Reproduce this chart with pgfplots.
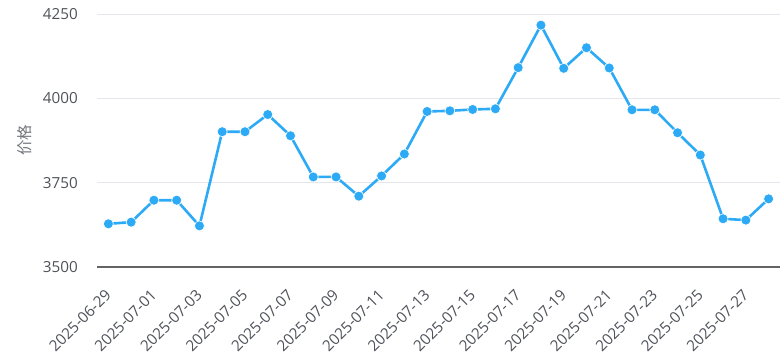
\documentclass[border=0pt]{standalone}
\usepackage{pgfplots}
\pgfplotsset{compat=1.18}
\usepackage{fontspec}
\setmainfont{Open Sans}
\newfontfamily\cjk{Noto Sans CJK SC}
\definecolor{linec}{RGB}{45,170,245}
\definecolor{txt}{RGB}{80,82,90}
\definecolor{gridc}{RGB}{228,230,235}
\definecolor{axc}{RGB}{100,100,100}
\begin{document}
\begin{tikzpicture}[x=1bp,y=1bp]
\begin{axis}[
  at={(0,0)}, anchor=south west,
  scale only axis, width=683bp, height=253bp,
  xmin=-0.5, xmax=29.5, ymin=3500, ymax=4250,
  axis x line*=bottom, axis y line*=left,
  y axis line style={draw=none},
  x axis line style={draw=axc, line width=1.3pt, -},
  ytick={3500,3750,4000,4250},
  ymajorgrids, grid style={gridc, line width=0.8pt},
  major tick length=0pt,
  xtick={0,2,...,28},
  xticklabels={2025-06-29,2025-07-01,2025-07-03,2025-07-05,2025-07-07,2025-07-09,2025-07-11,2025-07-13,2025-07-15,2025-07-17,2025-07-19,2025-07-21,2025-07-23,2025-07-25,2025-07-27},
  tick label style={font=\fontsize{15.3}{17}\selectfont, text=txt},
  /pgf/number format/assume math mode=true,
  /pgf/number format/1000 sep={},
  xticklabel style={rotate=45, anchor=north east, inner sep=0pt, yshift=-12bp, xshift=-18bp},
  yticklabel style={anchor=east, inner sep=0pt, xshift=-19bp},
  ylabel={\cjk 价格},
  every axis y label/.style={at={(rel axis cs:0,0.5)}, xshift=-72bp, rotate=90, anchor=center, font=\fontsize{15.5}{17}\selectfont, text=txt!80},
  clip=false,
]
\addplot[color=linec, line width=2.6bp, mark=*, mark size=5bp, mark options={fill=linec, draw=white, line width=0.6pt}]
coordinates {
(0,3628) (1,3633) (2,3698) (3,3698) (4,3622) (5,3901) (6,3901) (7,3952) (8,3889) (9,3767)
(10,3767) (11,3710) (12,3770) (13,3835) (14,3961) (15,3963) (16,3967) (17,3969) (18,4091) (19,4217)
(20,4089) (21,4150) (22,4090) (23,3966) (24,3966) (25,3898) (26,3832) (27,3643) (28,3639) (29,3702)
};
\end{axis}
\pgfresetboundingbox
\path (-97bp,-89bp) rectangle (684bp,267bp);
\end{tikzpicture}
\end{document}
